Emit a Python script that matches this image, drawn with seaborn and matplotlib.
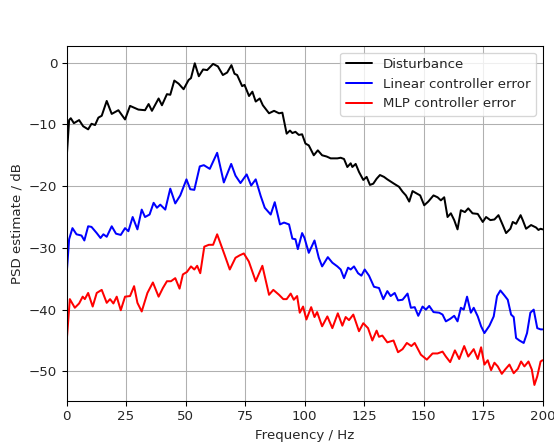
import numpy as np
import pandas as pd
import matplotlib
matplotlib.use("Agg")
import matplotlib.pyplot as plt
import seaborn as sns

# Disturbance
dist_f = [0, 1.1, 1.8, 3.1, 5.3, 7, 9.1, 10.5, 12, 13.4, 14.8, 16.9, 19, 21.8, 24.6, 26.7, 30.2, 33, 34.5, 35.9,
          38.7, 40.1, 42.2, 43.6, 45.3, 47.1, 49.2, 51.3, 52.3, 53.9, 55.6, 57.4, 59.1, 61.6, 63.6, 65.7, 67.5,
          69.3, 70.6, 71.7, 73.8, 74.8, 76.7, 78.1, 79.5, 81.2, 82.5, 85.1, 87.2, 89.3, 90.7, 92.5, 93.9, 94.9,
          96.2, 97.6, 99, 100.4, 101.8, 103.9, 105.6, 107.4, 109.3, 111, 113.8, 115.2, 116.6, 118, 119.4, 120.1,
          121.5, 122.9, 124.7, 126.1, 127.5, 128.9, 130.3, 131.7, 133.4, 134.8, 137.6, 139.7, 141.2, 142.6, 144,
          145.4, 147.2, 148.6, 150.3, 152, 154.2, 155.9, 157.3, 158.7, 160.1, 161.5, 162.9, 164.3, 165.7, 167.4,
          168.8, 170.6, 172.8, 174.9, 176.3, 178.1, 179.8, 181.5, 183.3, 184.7, 186.5, 187.5, 188.9, 190.8, 191.7,
          193.1, 195.2, 197.3, 198.3, 199.2, 200]
dist_db = [-15.8, -9.3, -9.0, -9.8, -9.3, -10.3, -10.8, -9.9, -10.1, -8.9, -8.6, -6.2, -8.3, -7.7, -9.2, -7.0, -7.6,
           -7.7, -6.7, -7.8, -5.8, -6.9, -5.1, -5.2, -2.9, -3.4, -4.3, -2.8, -2.5, -0.1, -2.2, -1.1, -1.2, -0.2,
           -0.6, -2.0, -1.6, -0.4, -1.8, -2.0, -3.8, -3.6, -5.4, -4.7, -6.3, -5.8, -6.9, -8.2, -7.8, -8.2, -8.1,
           -11.5, -11.0, -11.4, -11.2, -11.7, -11.6, -13.1, -13.4, -15.0, -14.2, -15.0, -15.2, -15.5, -15.5, -15.4,
           -15.6, -16.9, -16.3, -16.9, -16.4, -17.7, -19.0, -18.5, -19.8, -19.6, -18.8, -18.2, -18.5, -18.9, -19.6,
           -20.1, -20.9, -21.5, -22.5, -20.8, -21.2, -21.5, -23.1, -22.5, -21.5, -21.8, -22.3, -21.8, -25.0, -24.4,
           -25.5, -27.0, -23.9, -24.2, -23.6, -24.4, -24.5, -25.8, -25.0, -25.5, -25.4, -24.7, -26.3, -27.6, -26.9,
           -25.8, -26.1, -24.7, -25.5, -26.9, -26.3, -26.7, -27.1, -26.9, -27.0]

# Linear controller error
lin_f = [0, 1.1, 2.5, 4.2, 6.3, 7.5, 9.1, 10.5, 12.7, 14.3, 15.5, 16.9, 19, 20.8, 22.8, 24.6, 26, 27.8, 29.8, 31.6,
         33, 34.9, 36.6, 38, 39.4, 41.5, 43.6, 45.7, 47.8, 50.4, 52, 53.7, 56, 57.7, 60.2, 63.3, 66.1, 69.2, 71,
         73.1, 75.7, 77.6, 79.5, 81.6, 83.3, 85.8, 87.5, 89.7, 91.4, 93.5, 94.9, 96.2, 97.2, 99, 100, 101.8, 104.2,
         106, 107.4, 109.8, 111.7, 113.8, 115.2, 116.6, 118.3, 119.4, 120.8, 122.5, 123.9, 125.3, 127.1, 129.2,
         131.3, 133.1, 134.8, 136.2, 137.9, 139.3, 141.2, 143.3, 144.7, 146.3, 147.8, 149.6, 151, 152.4, 154.2,
         156.6, 158, 159.4, 161.2, 162.9, 164.3, 165.7, 166.9, 168.3, 169.9, 171.1, 172.8, 174.2, 175.6, 177.7,
         179.5, 180.9, 182.3, 184, 185.4, 186.8, 187.9, 188.9, 190.3, 192.1, 193.5, 194.9, 196.3, 197.8, 199.2, 200]
lin_db = [-34.6, -28.6, -26.8, -27.8, -28.0, -28.8, -26.5, -26.6, -27.6, -28.4, -27.8, -28.2, -26.5, -27.7, -27.9,
          -26.8, -27.3, -25.0, -27.0, -23.8, -25.0, -24.6, -22.7, -23.5, -23.0, -23.8, -20.4, -22.8, -21.5, -18.9,
          -20.5, -20.6, -16.8, -16.6, -17.2, -14.6, -19.4, -16.4, -18.3, -19.5, -18.1, -19.9, -18.9, -21.6, -23.5,
          -24.6, -22.6, -26.2, -25.9, -26.2, -28.5, -28.6, -30.2, -27.6, -28.4, -30.8, -28.8, -31.6, -33.0, -31.5,
          -32.4, -33.0, -33.5, -34.9, -33.2, -33.5, -33.0, -34.1, -34.5, -33.5, -34.5, -36.3, -36.5, -38.3, -37.0,
          -37.8, -37.3, -38.5, -38.4, -37.4, -39.7, -39.6, -41.0, -39.5, -40.0, -39.4, -40.4, -40.5, -40.8, -41.9,
          -41.5, -41.0, -41.9, -39.7, -40.0, -37.9, -40.5, -39.7, -41.1, -42.7, -43.8, -42.6, -41.1, -37.8, -36.9,
          -37.7, -38.4, -40.8, -41.2, -44.6, -45.0, -45.4, -43.8, -40.5, -40.0, -43.0, -43.2, -43.2]

# MLP controller error
mlp_f = [0, 1.4, 3.5, 5.3, 6.8, 7.7, 9.1, 11, 12.7, 14.8, 16.9, 18.3, 19.7, 21.1, 22.8, 24.6, 26.7, 28.4, 29.8,
         31.6, 34, 36.3, 38.7, 40.5, 42.2, 43.9, 45.7, 47.5, 48.9, 50.6, 52.3, 53.7, 54.9, 56.2, 57.9, 59.8, 61.6,
         63.3, 66.4, 68.6, 71, 72.8, 74.5, 76.6, 79.5, 82.3, 85.1, 86.9, 89.3, 91.1, 92.5, 94.2, 95.5, 96.9, 98,
         99.4, 100.8, 102.8, 104.2, 105.3, 107.4, 109.6, 111.7, 114, 115.9, 117.3, 118.7, 120.5, 122.9, 124.7,
         126.7, 128.5, 130.3, 131.3, 132.7, 134.8, 137.4, 139.3, 141.2, 143, 144.9, 146.3, 148.9, 151.4, 153.8,
         155.9, 158, 159.4, 161.2, 163.2, 165, 167.1, 168.8, 171.1, 172.8, 174.2, 175.6, 177, 178.4, 179.8, 181.2,
         182.9, 184.3, 186.1, 187.9, 189.6, 191, 192.4, 194.1, 195.5, 196.6, 197.8, 199.2, 200]
mlp_db = [-45.5, -38.3, -39.7, -39.0, -37.9, -38.3, -37.3, -39.5, -37.3, -36.8, -38.9, -38.3, -39.0, -37.9, -40.1,
          -37.9, -37.8, -36.2, -38.9, -40.3, -37.3, -35.6, -37.9, -36.5, -35.4, -35.4, -34.9, -36.6, -34.3, -33.9,
          -33.0, -33.5, -32.9, -34.1, -29.8, -29.5, -29.5, -27.8, -31.1, -33.5, -31.6, -31.2, -30.9, -32.2, -35.4,
          -32.9, -37.6, -36.8, -37.6, -38.3, -38.3, -37.4, -38.4, -37.8, -40.5, -39.5, -41.6, -39.6, -41.2, -40.4,
          -42.7, -41.1, -43.0, -40.6, -42.6, -41.2, -41.7, -40.8, -43.5, -42.2, -43.0, -45.0, -43.4, -44.4, -44.2,
          -45.3, -45.0, -46.9, -46.4, -45.4, -45.9, -45.4, -47.3, -48.1, -47.1, -47.1, -46.8, -47.6, -48.5, -46.6,
          -48.0, -45.9, -47.6, -46.4, -48.0, -46.1, -48.9, -48.2, -49.8, -48.6, -49.2, -50.4, -49.7, -48.9, -50.3,
          -49.6, -48.4, -49.2, -48.4, -49.7, -52.2, -50.8, -48.4, -48.2]

series_names = ["Disturbance", "Linear controller error", "MLP controller error"]
colors = ["black", "blue", "red"]

df = pd.concat([
    pd.DataFrame({"f": dist_f, "db": dist_db, "series": series_names[0]}),
    pd.DataFrame({"f": lin_f, "db": lin_db, "series": series_names[1]}),
    pd.DataFrame({"f": mlp_f, "db": mlp_db, "series": series_names[2]}),
], ignore_index=True)

sns.set_style("white")
plt.rcParams["font.family"] = ["DejaVu Sans"]
plt.rcParams["font.size"] = 10

DPI = 96
fig = plt.figure(figsize=(554 / DPI, 445 / DPI), dpi=DPI)
ax = fig.add_axes([66.5 / 554, 1 - 401 / 445, 476 / 554, 355 / 445])

sns.lineplot(data=df, x="f", y="db", hue="series", hue_order=series_names,
             palette=colors, sort=False, estimator=None, linewidth=1.5, ax=ax)

ax.set_xlim(0, 200)
ax.set_ylim(-54.8, 2.7)
ax.set_xticks([0, 25, 50, 75, 100, 125, 150, 175, 200])
ax.set_yticks([0, -10, -20, -30, -40, -50])
ax.grid(True, color="#b0b0b0", linewidth=0.8)
ax.set_axisbelow(True)
for s in ax.spines.values():
    s.set_color("black")
    s.set_linewidth(0.8)
ax.tick_params(axis="both", which="major", length=3.5, width=0.8, color="black",
               labelsize=10, bottom=True, left=True, direction="out")
ax.set_xlabel("Frequency / Hz", fontsize=10)
ax.set_ylabel("PSD estimate / dB", fontsize=10)
leg = ax.legend(loc="upper right", fontsize=10, frameon=True, fancybox=True)
leg.get_frame().set_edgecolor("#cccccc")
leg.set_title(None)

fig.savefig("out.png", dpi=DPI)
